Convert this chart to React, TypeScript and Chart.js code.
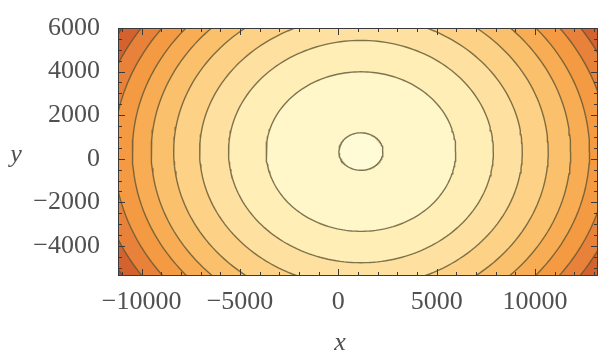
import React, { useEffect, useRef } from "react";
import { Chart, registerables } from "chart.js";

Chart.register(...registerables);

// ---- data ----
const xTickValues = [-10000, -5000, 0, 5000, 10000];
const yTickValues = [-4000, -2000, 0, 2000, 4000, 6000];
const xMinorStep = 1000;
const yMinorStep = 500;
const xLimits = [-11200, 13200];
const yLimits = [-5380, 6000];
const contourCenter = [1150, 330];
// semi-axes of the contour ellipses, innermost first
const contourRx = [1120, 4820, 6730, 8200, 9520, 10660, 11620, 12570, 13440, 14250];
const contourRy = [860, 3660, 5100, 6210, 7210, 8080, 8810, 9530, 10180, 10800];
// colour of the band inside each contour (index 0 = innermost), last = outside all contours
const bandColors = [
  "#FFFBD6",
  "#FFF7C9",
  "#FFEEB6",
  "#FEE1A0",
  "#FDD186",
  "#FBC06B",
  "#F8AD54",
  "#F39A43",
  "#E8813A",
  "#D4622F",
  "#B8462A",
];
const contourLineColor = "rgba(95, 85, 50, 0.8)";
const labelColor = "#505050";
const serif = '"Liberation Serif", "DejaVu Serif", serif';

function ellipsePoints(k: number) {
  const pts: { x: number; y: number }[] = [];
  const N = 200;
  for (let i = 0; i <= N; i++) {
    const t = (2 * Math.PI * i) / N;
    pts.push({
      x: contourCenter[0] + contourRx[k] * Math.cos(t),
      y: contourCenter[1] + contourRy[k] * Math.sin(t),
    });
  }
  return pts;
}

const backgroundPlugin = {
  id: "areaBackground",
  beforeDatasetsDraw(chart: any) {
    const { ctx, chartArea } = chart;
    ctx.save();
    ctx.fillStyle = bandColors[bandColors.length - 1];
    ctx.fillRect(chartArea.left, chartArea.top, chartArea.right - chartArea.left, chartArea.bottom - chartArea.top);
    ctx.restore();
  },
};

const framePlugin = {
  id: "frameTicks",
  afterDatasetsDraw(chart: any) {
    const { ctx, chartArea, scales } = chart;
    const xs = scales.x;
    const ys = scales.y;
    ctx.save();
    ctx.strokeStyle = "#3a3a3a";
    ctx.lineWidth = 1;
    ctx.strokeRect(chartArea.left + 0.5, chartArea.top + 0.5, chartArea.right - chartArea.left - 1, chartArea.bottom - chartArea.top - 1);
    const major = 7;
    const minor = 4;
    ctx.beginPath();
    const xStart = Math.ceil(xLimits[0] / xMinorStep) * xMinorStep;
    for (let v = xStart; v <= xLimits[1]; v += xMinorStep) {
      const len = xTickValues.includes(v) ? major : minor;
      const px = Math.round(xs.getPixelForValue(v)) + 0.5;
      ctx.moveTo(px, chartArea.bottom);
      ctx.lineTo(px, chartArea.bottom - len);
      ctx.moveTo(px, chartArea.top);
      ctx.lineTo(px, chartArea.top + len);
    }
    const yStart = Math.ceil(yLimits[0] / yMinorStep) * yMinorStep;
    for (let v = yStart; v <= yLimits[1]; v += yMinorStep) {
      const len = yTickValues.includes(v) ? major : minor;
      const py = Math.round(ys.getPixelForValue(v)) + 0.5;
      ctx.moveTo(chartArea.left, py);
      ctx.lineTo(chartArea.left + len, py);
      ctx.moveTo(chartArea.right, py);
      ctx.lineTo(chartArea.right - len, py);
    }
    ctx.stroke();
    ctx.restore();
  },
  afterDraw(chart: any) {
    const { ctx } = chart;
    ctx.save();
    ctx.fillStyle = labelColor;
    ctx.font = `italic 26px ${serif}`;
    ctx.textAlign = "center";
    ctx.textBaseline = "middle";
    ctx.fillText("y", 16, 155);
    ctx.fillText("x", 340, 343);
    ctx.restore();
  },
};

const fmt = (v: any) => (Number(v) < 0 ? "\u2212" + Math.abs(Number(v)) : String(v));

export default function App() {
  const canvasRef = useRef<HTMLCanvasElement | null>(null);

  useEffect(() => {
    if (!canvasRef.current) return;
    const datasets = contourRx.map((_, k) => ({
      label: `contour ${k}`,
      data: ellipsePoints(k),
      showLine: true,
      fill: "shape",
      backgroundColor: bandColors[k],
      borderColor: contourLineColor,
      borderWidth: 1.4,
      pointRadius: 0,
      pointHoverRadius: 0,
      tension: 0,
      clip: 0,
    }));
    const chart = new Chart(canvasRef.current, {
      type: "scatter",
      data: { datasets: datasets as any },
      options: {
        animation: false,
        responsive: false,
        devicePixelRatio: 1,
        layout: { padding: { top: 28, left: 0, right: 0, bottom: 0 } },
        plugins: { legend: { display: false }, tooltip: { enabled: false } },
        scales: {
          x: {
            type: "linear",
            min: xLimits[0],
            max: xLimits[1],
            afterBuildTicks: (s: any) => {
              s.ticks = xTickValues.map((v) => ({ value: v }));
            },
            afterFit: (s: any) => {
              s.height = 82;
            },
            grid: { display: false },
            border: { display: false },
            ticks: {
              font: { family: serif, size: 26 },
              color: labelColor,
              padding: 3,
              maxRotation: 0,
              autoSkip: false,
              callback: fmt,
            },
          },
          y: {
            type: "linear",
            min: yLimits[0],
            max: yLimits[1],
            afterBuildTicks: (s: any) => {
              s.ticks = yTickValues.map((v) => ({ value: v }));
            },
            afterFit: (s: any) => {
              s.width = 118;
            },
            grid: { display: false },
            border: { display: false },
            ticks: {
              font: { family: serif, size: 26 },
              color: labelColor,
              padding: 10,
              autoSkip: false,
              callback: fmt,
            },
          },
        },
      },
      plugins: [backgroundPlugin, framePlugin],
    });
    return () => chart.destroy();
  }, []);

  return (
    <div style={{ position: "fixed", left: 0, top: 0, width: 598, height: 358, background: "#fff" }}>
      <canvas ref={canvasRef} width={598} height={358} style={{ display: "block" }} />
    </div>
  );
}
